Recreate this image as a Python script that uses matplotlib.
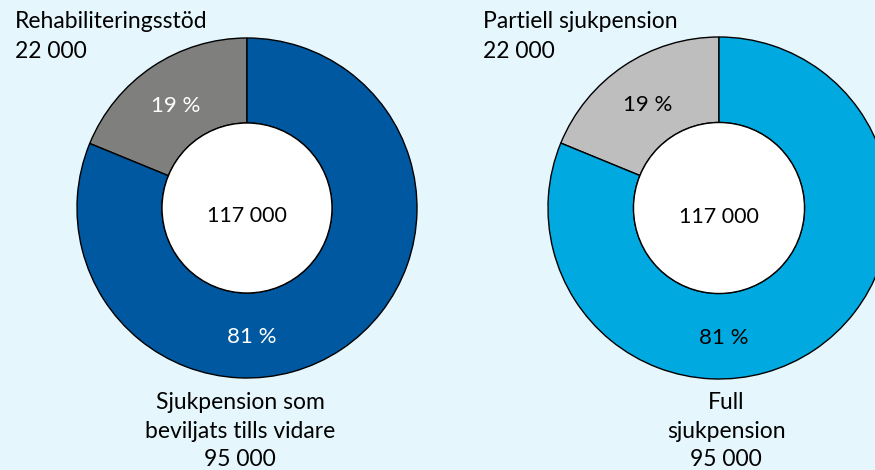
import numpy as np
import matplotlib
matplotlib.use('Agg')
import matplotlib.pyplot as plt
from matplotlib.patches import Circle

plt.rcParams['font.family'] = ['Lato', 'DejaVu Sans']

# data
total = 117000
left_values = [22000, 95000]
left_names = ['Rehabiliteringsstöd', 'Sjukpension som\nbeviljats tills vidare']
right_values = [22000, 95000]
right_names = ['Partiell sjukpension', 'Full\nsjukpension']

bg = '#e5f6fd'
W, H = 875, 470
fig = plt.figure(figsize=(W / 100, H / 100), dpi=100, facecolor=bg)


def fmt(v):
    return '{:,}'.format(v).replace(',', ' ')


def donut(cx, cy, r, values, colors, txtcols):
    ax = fig.add_axes([(cx - r) / W, (H - cy - r) / H, 2 * r / W, 2 * r / H])
    ax.set_facecolor('none')
    ax.pie(values, colors=colors, startangle=90, counterclock=True, radius=1,
           wedgeprops=dict(width=0.5, edgecolor='black', linewidth=1))
    ax.add_patch(Circle((0, 0), 0.5, facecolor='white', edgecolor='black', lw=1, zorder=5))
    ax.set_xlim(-1, 1)
    ax.set_ylim(-1, 1)
    ax.set_aspect('equal')
    ax.axis('off')
    s = sum(values)
    pct = [round(100 * v / s) for v in values]
    a = np.deg2rad(90 + 180 * values[0] / s)
    ax.text(0.75 * np.cos(a), 0.75 * np.sin(a) - 0.02, f'{pct[0]} %', ha='center', va='center',
            fontsize=16, color=txtcols[0], zorder=6)
    ax.text(0.03, -0.76, f'{pct[1]} %', ha='center', va='center',
            fontsize=16, color=txtcols[1], zorder=6)
    ax.text(0, -0.05, fmt(s), ha='center', va='center', fontsize=15.5, color='black', zorder=6)
    return ax


donut(247, 208, 170, left_values, ['#7f7f7d', '#0058a0'], ['white', 'white'])
donut(719, 208, 171, right_values, ['#bebebe', '#00aae1'], ['black', 'black'])

fs = 16.5
fig.text(15 / W, 1 - 21 / H, left_names[0], ha='left', va='center', fontsize=fs)
fig.text(15 / W, 1 - 51 / H, fmt(left_values[0]), ha='left', va='center', fontsize=fs)
fig.text(483 / W, 1 - 21 / H, right_names[0], ha='left', va='center', fontsize=fs)
fig.text(483 / W, 1 - 51 / H, fmt(right_values[0]), ha='left', va='center', fontsize=fs)

fig.text(240 / W, 1 - 431 / H, left_names[1] + '\n' + fmt(left_values[1]), ha='center',
         va='center', fontsize=fs, linespacing=1.42)
fig.text(726 / W, 1 - 431 / H, right_names[1] + '\n' + fmt(right_values[1]), ha='center',
         va='center', fontsize=fs, linespacing=1.42)

fig.savefig('out.png', dpi=100, facecolor=bg)
